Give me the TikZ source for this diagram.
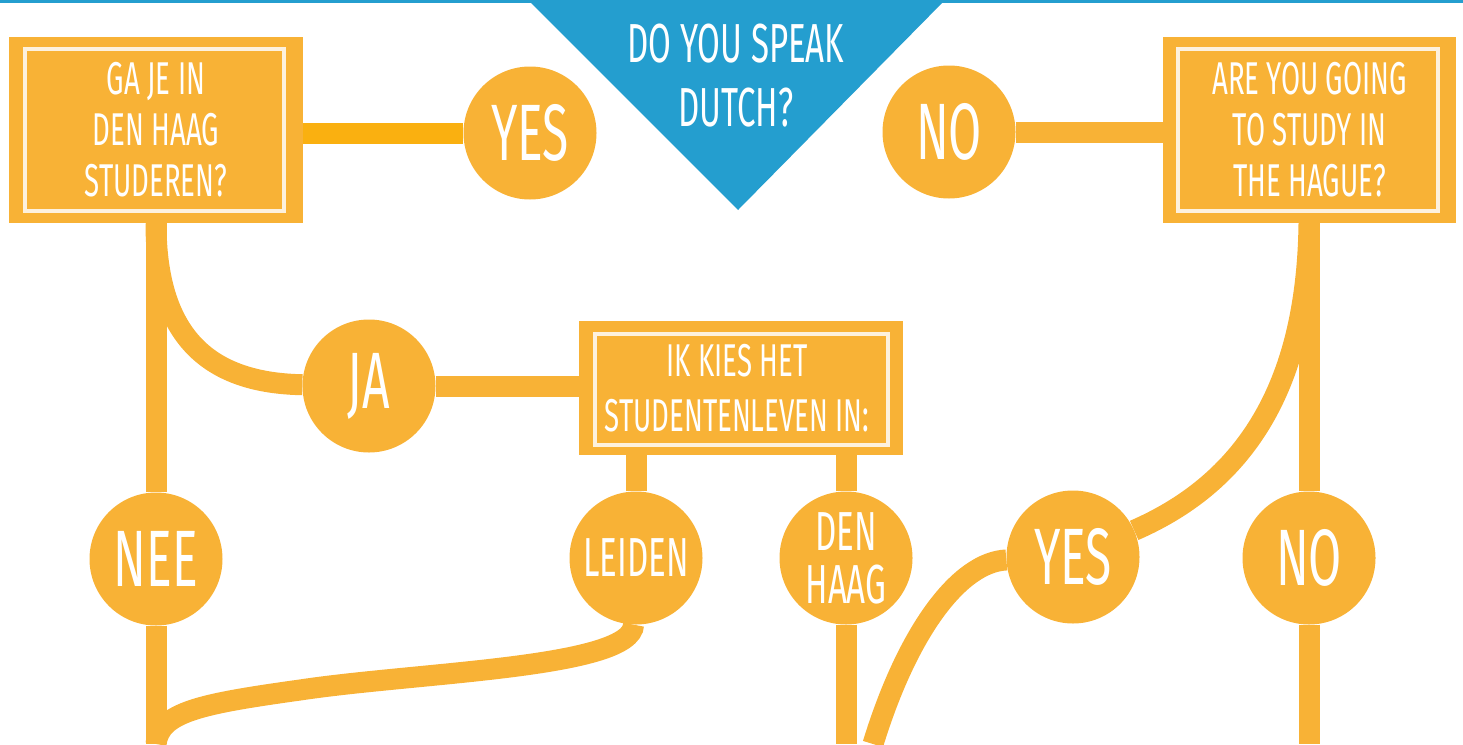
\documentclass[tikz,border=0pt]{standalone}
\usepackage{fontspec}
\setmainfont[FakeStretch=0.6]{Fira Sans}
\usepackage{tikz}
\usetikzlibrary{backgrounds}

\definecolor{boxorange}{RGB}{248,178,54}
\definecolor{darkorange}{RGB}{250,176,16}
\definecolor{cream}{RGB}{253,241,222}
\definecolor{dutchblue}{RGB}{36,158,207}

\newcommand\boxfont{\fontsize{46}{51}\selectfont}
\newcommand\ballfont{\fontsize{80}{80}\selectfont}
\newcommand\midfont{\fontsize{55}{53}\selectfont}

\begin{document}
\begin{tikzpicture}[x=1pt,y=-1pt,
    qbox/.style={fill=boxorange, text=white, align=center, font=\boxfont, inner sep=0pt},
    ball/.style={circle, fill=boxorange, minimum size=133pt, inner sep=0pt, text=white, font=\ballfont},
    link/.style={draw=boxorange, line width=21pt},
    frame/.style={draw=cream, line width=4pt}]
    \useasboundingbox (0,0) rectangle (1463,744);
    \coordinate (bot) at (0,744);

    % blue header
    \fill[dutchblue] (0,0) rectangle (1463,2.5);
    \fill[dutchblue] (528,0) -- (945,0) -- (738,210) -- cycle;
    \node[text=white, align=center, font=\fontsize{55}{64}\selectfont] (dutch) at (736,76) {DO YOU SPEAK\\DUTCH?};

    % boxes
    \node[qbox, minimum width=294pt, minimum height=186pt] (gaje) at (156,130) {GA JE IN\\DEN HAAG\\STUDEREN?};
    \node[qbox, minimum width=293pt, minimum height=186pt] (hague) at (1309.5,130) {ARE YOU GOING\\TO STUDY IN\\THE HAGUE?};
    \node[qbox, minimum width=324pt, minimum height=134pt] (kies) at (741,388) {};
    \draw[frame] ([shift={(16,-12)}]gaje.south west) rectangle ([shift={(-19,12)}]gaje.north east);
    \draw[frame] ([shift={(15,-12)}]hague.south west) rectangle ([shift={(-18,12)}]hague.north east);
    \draw[frame] ([shift={(16,-10)}]kies.south west) rectangle ([shift={(-15,13)}]kies.north east);
    \node[text=white, align=center, font=\fontsize{46}{55}\selectfont] (kiestxt) at (737,388) {IK KIES HET\\STUDENTENLEVEN IN:};

    % circles
    \node[ball] (yesL) at (530,133) {YES};
    \node[ball] (noT) at (949,132) {NO};
    \node[ball] (ja) at (369,386) {JA};
    \node[ball] (nee) at (156,559) {NEE};
    \node[ball, font=\fontsize{55}{55}\selectfont] (leiden) at (636,558) {LEIDEN};
    \node[ball, align=center, font=\midfont] (denhaag) at (846,558) {DEN\\HAAG};
    \node[ball] (yesR) at (1073,557) {YES};
    \node[ball] (noR) at (1309,558) {NO};
    \coordinate (yesRend) at (873,744);

    % connectors
    \begin{scope}[on background layer]
    \draw[link, draw=darkorange] (gaje.east |- yesL) -- (yesL);
    \draw[link] (noT) -- (hague.west |- noT);
    \draw[link] (gaje.south -| nee) -- (nee) -- (nee |- bot);
    \draw[link] (gaje.south -| nee) .. controls (156,340) and (212,383) .. (ja);
    \draw[link] (ja) -- (kies.west |- ja);
    \draw[link] (kies.south -| leiden) -- (leiden);
    \draw[link] (kies.south -| denhaag) -- (denhaag) -- (denhaag |- bot);
    \draw[link] (hague.south -| noR) -- (noR) -- (noR |- bot);
    \draw[link] (hague.south -| noR) .. controls (1307,380) and (1250,480) .. (yesR);
    \draw[link] (yesR) .. controls (960,562) and (908,630) .. (yesRend);
    \draw[link] (leiden) .. controls (632,668) and (420,672) .. (300,690)
        .. controls (200,704) and (160,712) .. (nee |- bot);
    \end{scope}
\end{tikzpicture}
\end{document}
